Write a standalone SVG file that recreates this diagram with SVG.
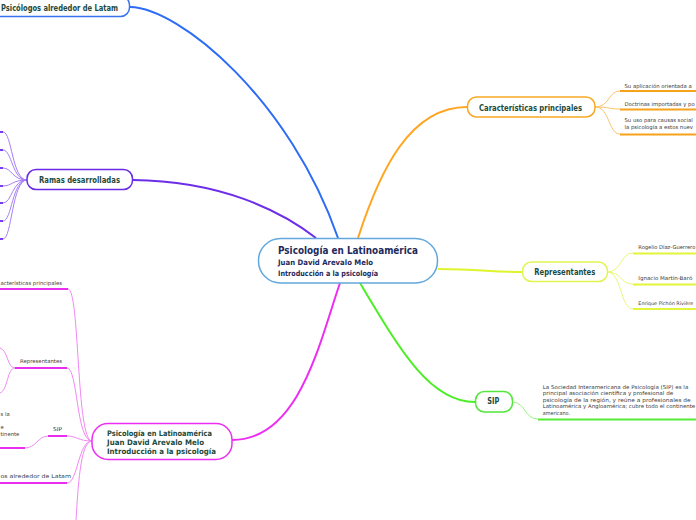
<svg xmlns="http://www.w3.org/2000/svg" width="696" height="520" viewBox="0 0 696 520">
<style>
.t{font-family:"DejaVu Sans",Verdana,sans-serif;font-weight:bold;fill:#1d4a3c}
.c{font-family:"DejaVu Sans",Verdana,sans-serif;font-weight:bold;fill:#1e2a5c}
.s{font-family:"DejaVu Sans",Verdana,sans-serif;font-size:5.3px;fill:#3a3a3a}
.n{fill:#fff;stroke-width:1.5}
path,line{fill:none}
.br{stroke-width:1}
.ul{stroke-width:2}
</style>
<rect width="696" height="520" fill="#fff"/>
<g id="connectors">
  <path d="M338,238 C290,100 180,8 130,7" stroke="#2c6cf6" stroke-width="2"/>
  <path d="M316,238 C280,210 220,181 133,180" stroke="#6c2ee8" stroke-width="2"/>
  <path d="M340,283 C320,340 300,440 232,440" stroke="#ec2ef2" stroke-width="2"/>
  <path d="M358,238 C380,170 410,107 467,107" stroke="#ffa51f" stroke-width="2"/>
  <path d="M438,269 C480,269 490,272 522,272" stroke="#ddf52a" stroke-width="2"/>
  <path d="M360,283 C400,350 430,402 475,402" stroke="#4cee26" stroke-width="2"/>
  <g stroke="#a57ff5" class="br">
    <path d="M27,180 C12,180 12,132 3,132"/>
    <path d="M27,180 C12,180 12,150 3,150"/>
    <path d="M27,180 C12,180 12,168 3,168"/>
    <path d="M27,180 C12,180 12,186 3,186"/>
    <path d="M27,180 C12,180 12,203 3,203"/>
    <path d="M27,180 C12,180 12,221 3,221"/>
    <path d="M27,180 C12,180 12,239 3,239"/>
  </g>
  <g stroke="#7a3cf0" class="ul">
    <line x1="-2" y1="132" x2="3" y2="132"/>
    <line x1="-2" y1="150" x2="3" y2="150"/>
    <line x1="-2" y1="168" x2="3" y2="168"/>
    <line x1="-2" y1="186" x2="3" y2="186"/>
    <line x1="-2" y1="203" x2="3" y2="203"/>
    <line x1="-2" y1="221" x2="3" y2="221"/>
    <line x1="-2" y1="239" x2="3" y2="239"/>
  </g>
  <g stroke="#f288f5" class="br">
    <path d="M92,441 C76,441 80,289 68,289"/>
    <path d="M92,441 C76,441 78,368 67,368"/>
    <path d="M92,441 C78,441 77,436 67,436"/>
    <path d="M92,441 C78,441 78,483 67,483"/>
    <path d="M92,441 C80,441 78,490 76,520"/>
    <path d="M15,368 C7,368 8,350 0,348"/>
    <path d="M15,368 C7,368 8,390 0,393"/>
    <path d="M48,436 C38,436 36,448 25,448"/>
  </g>
  <g stroke="#ea2ef0" class="ul">
    <line x1="-2" y1="289" x2="68" y2="289"/>
    <line x1="15" y1="368" x2="67" y2="368"/>
    <line x1="48" y1="436" x2="67" y2="436"/>
    <line x1="-2" y1="448" x2="25" y2="448"/>
    <line x1="-2" y1="483" x2="67" y2="483"/>
  </g>
  <g stroke="#fcc46a" class="br">
    <path d="M595,107 C610,107 608,91 620,91"/>
    <path d="M595,107 C610,107 608,109 620,109"/>
    <path d="M595,107 C610,107 608,134 620,134"/>
  </g>
  <g stroke="#f7a21b" class="ul">
    <line x1="620" y1="91" x2="698" y2="91"/>
    <line x1="620" y1="109.5" x2="698" y2="109.5"/>
    <line x1="620" y1="134.5" x2="698" y2="134.5"/>
  </g>
  <g stroke="#eaf77a" class="br">
    <path d="M607,272 C622,272 620,253 633,253"/>
    <path d="M607,272 C622,272 620,284 633,284"/>
    <path d="M607,272 C622,272 620,309 633,309"/>
  </g>
  <g stroke="#e2f53a" class="ul">
    <line x1="633" y1="253.5" x2="698" y2="253.5"/>
    <line x1="633" y1="284.5" x2="698" y2="284.5"/>
    <line x1="633" y1="309" x2="698" y2="309"/>
  </g>
  <path d="M512,402 C526,402 524,419 538,419" stroke="#9af585" class="br"/>
  <line x1="538" y1="419.5" x2="698" y2="419.5" stroke="#56ea34" class="ul"/>
</g>

<g id="central">
  <rect x="258.5" y="238.5" width="179" height="44.5" rx="22" class="n" stroke="#62a8dc"/>
  <text x="278" y="254" class="c" font-size="10" textLength="140" lengthAdjust="spacingAndGlyphs">Psicología en Latinoamérica</text>
  <text x="278" y="265" class="c" font-size="7.5" textLength="95" lengthAdjust="spacingAndGlyphs">Juan David Arevalo Melo</text>
  <text x="278" y="275.5" class="c" font-size="7.5" textLength="100" lengthAdjust="spacingAndGlyphs">Introducción a la psicología</text>
</g>

<g id="n-psicologos-top">
  <rect x="-30" y="-4" width="159.5" height="20.5" rx="9" class="n" stroke="#3a72f2"/>
  <text x="1" y="10.5" class="t" font-size="8" textLength="117" lengthAdjust="spacingAndGlyphs">Psicólogos alrededor de Latam</text>
</g>

<g id="n-ramas">
  <rect x="27" y="169.5" width="105.5" height="20" rx="9" class="n" stroke="#6a2ae6"/>
  <text x="39" y="182.5" class="t" font-size="8" textLength="81" lengthAdjust="spacingAndGlyphs">Ramas desarrolladas</text>
</g>

<g id="n-left-main">
  <rect x="92" y="423.5" width="140" height="36" rx="16" class="n" stroke="#ec2ef2"/>
  <text x="107" y="435.5" class="t" font-size="7.6" textLength="105" lengthAdjust="spacingAndGlyphs">Psicología en Latinoamérica</text>
  <text x="107" y="445" class="t" font-size="7.6" textLength="97" lengthAdjust="spacingAndGlyphs">Juan David Arevalo Melo</text>
  <text x="107" y="453.5" class="t" font-size="7.6" textLength="109" lengthAdjust="spacingAndGlyphs">Introducción a la psicología</text>
</g>

<g id="n-left-caracteristicas">
  <text x="0.5" y="285" class="s" textLength="61.5" lengthAdjust="spacingAndGlyphs">acterísticas principales</text>
</g>
<g id="n-left-representantes">
  <text x="20" y="362.5" class="s" textLength="42" lengthAdjust="spacingAndGlyphs">Representantes</text>
</g>
<g id="n-left-sip">
  <text x="53" y="431" class="s" textLength="9" lengthAdjust="spacingAndGlyphs">SIP</text>
  <text x="0.5" y="416" class="s">s la</text>
  <text x="0.5" y="429" class="s">e</text>
  <text x="0.5" y="436" class="s">tinente</text>
</g>
<g id="n-left-psicologos">
  <text x="0.5" y="477.5" class="s" textLength="70.5" lengthAdjust="spacingAndGlyphs">os alrededor de Latam</text>
</g>

<g id="n-caracteristicas">
  <rect x="467.5" y="97" width="127.5" height="20" rx="9" class="n" stroke="#f7a823"/>
  <text x="479" y="110.5" class="t" font-size="8" textLength="103" lengthAdjust="spacingAndGlyphs">Características principales</text>
</g>
<g id="n-car-1"><text x="624.5" y="87.5" class="s">Su aplicación orientada a</text></g>
<g id="n-car-2"><text x="624.5" y="106" class="s">Doctrinas importadas y po</text></g>
<g id="n-car-3">
  <text x="624.5" y="122" class="s">Su uso para causas social</text>
  <text x="624.5" y="128.5" class="s">la psicología a estos nuev</text>
</g>

<g id="n-representantes">
  <rect x="522.5" y="262" width="85" height="19.5" rx="9" class="n" stroke="#e0f550"/>
  <text x="534.3" y="274.8" class="t" font-size="8" textLength="61" lengthAdjust="spacingAndGlyphs">Representantes</text>
</g>
<g id="n-rep-1"><text x="638.3" y="248.5" class="s" textLength="57" lengthAdjust="spacingAndGlyphs">Rogelio Díaz-Guerrero</text></g>
<g id="n-rep-2"><text x="638.3" y="279.5" class="s" textLength="54" lengthAdjust="spacingAndGlyphs">Ignacio Martín-Baró</text></g>
<g id="n-rep-3"><text x="638.3" y="304.5" class="s" font-size="4.8" style="font-size:4.8px" textLength="55" lengthAdjust="spacingAndGlyphs">Enrique Pichón Rivière</text></g>

<g id="n-sip">
  <rect x="475.5" y="391.5" width="37" height="20.5" rx="9" class="n" stroke="#52e83a"/>
  <text x="487.3" y="404" class="t" font-size="8" textLength="12" lengthAdjust="spacingAndGlyphs">SIP</text>
</g>
<g id="n-sip-desc">
  <text x="542.7" y="388.5" class="s" textLength="145.6" lengthAdjust="spacingAndGlyphs">La Sociedad Interamericana de Psicología (SIP) es la</text>
  <text x="542.7" y="395" class="s" textLength="130.6" lengthAdjust="spacingAndGlyphs">principal asociación científica y profesional de</text>
  <text x="542.7" y="401.5" class="s" textLength="148" lengthAdjust="spacingAndGlyphs">psicología de la región, y reúne a profesionales de</text>
  <text x="542.7" y="408" class="s" textLength="152.5" lengthAdjust="spacingAndGlyphs">Latinoamérica y Angloamérica; cubre todo el continente</text>
  <text x="542.7" y="414.7" class="s" textLength="27.3" lengthAdjust="spacingAndGlyphs">americano.</text>
</g>
</svg>
